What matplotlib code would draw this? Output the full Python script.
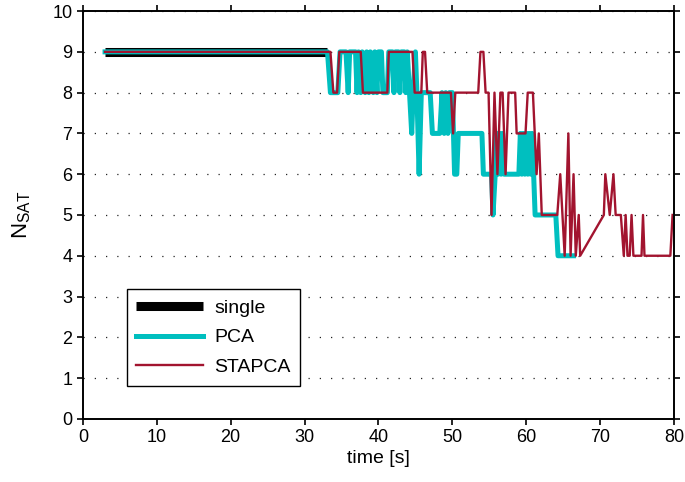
import matplotlib.pyplot as plt
import numpy as np

plt.rcParams['font.family'] = ['Liberation Sans', 'DejaVu Sans']

# single receiver
t_single = [3, 33]
n_single = [9, 9]

# PCA
t_pca = [3, 33.1, 33.5, 34.5, 34.8, 35.6, 35.9, 36.1, 36.9, 37.1, 37.3, 37.6, 37.8,
         38.2, 38.4, 38.7, 38.9, 39.3, 39.5, 39.8, 40.0, 40.4, 40.6, 41.2, 41.4,
         41.9, 42.1, 42.3, 42.7, 42.9, 43.1, 43.5, 43.7, 43.9, 44.2, 44.5, 44.7,
         45.0, 45.2, 45.5, 45.8, 47.0, 47.3, 48.3, 48.6, 48.9, 49.1, 49.4, 49.6,
         50.0, 50.3, 50.6, 50.8, 54.0, 54.2, 55.3, 55.5, 55.8, 56.0, 56.2, 56.4,
         56.6, 56.8, 57.0, 59.0, 59.2, 59.4, 59.6, 59.8, 60.0, 60.2, 60.4, 60.6,
         60.8, 61.0, 61.2, 64.0, 64.3, 66.4]
n_pca = [9, 9, 8, 8, 9, 9, 8, 9, 9, 8, 9, 8, 9,
         8, 9, 8, 9, 8, 9, 8, 9, 9, 8, 8, 9,
         9, 8, 9, 9, 8, 9, 9, 8, 9, 8, 7, 8,
         9, 8, 6, 8, 8, 7, 7, 8, 7, 8, 7, 8,
         8, 6, 6, 7, 7, 6, 6, 5, 6, 7, 6, 7,
         6, 7, 6, 6, 7, 6, 7, 6, 7, 6, 7, 6,
         7, 6, 5, 5, 4, 4]

# STAPCA
t_sta = [3, 33.5, 33.9, 34.4, 34.7, 37.6, 37.9, 41.2, 41.4, 44.6, 44.9, 45.8, 46.0,
         46.3, 46.6, 49.8, 50.1, 50.4, 53.5, 53.8, 54.2, 54.5, 54.9, 55.3, 55.7,
         56.1, 56.5, 56.8, 57.2, 57.6, 58.5, 58.7, 59.9, 60.2, 60.9, 61.4, 61.7,
         62.1, 64.2, 64.6, 65.2, 65.7, 66.0, 66.4, 66.7, 67.1, 67.3, 70.5, 70.7,
         71.3, 71.8, 72.1, 72.8, 73.2, 73.45, 73.7, 74.0, 74.25, 74.5, 75.6, 75.8,
         76.0, 79.5, 79.8]
n_sta = [9, 9, 8, 8, 9, 9, 8, 8, 9, 9, 8, 8, 9,
         9, 8, 8, 7, 8, 8, 9, 9, 8, 8, 5, 8,
         6, 8, 8, 6, 8, 8, 7, 7, 8, 8, 6, 7,
         5, 5, 6, 4, 7, 4, 6, 4, 5, 4, 5, 6,
         5, 6, 5, 5, 4, 5, 4, 4, 5, 4, 4, 5,
         4, 4, 5]

fig = plt.figure(figsize=(6.85, 4.82), dpi=100)
ax = fig.add_axes([0.121, 0.131, 0.863, 0.846])

ax.plot(t_single, n_single, color='black', lw=6.5, solid_capstyle='butt', label='single')
ax.plot(t_pca, n_pca, color='#00BFBF', lw=3.6, label='PCA')
ax.plot(t_sta, n_sta, color='#A2142F', lw=1.7, label='STAPCA')

ax.set_xlim(0, 80)
ax.set_ylim(0, 10)
ax.set_xticks(np.arange(0, 81, 10))
ax.set_yticks(np.arange(0, 11, 1))
ax.yaxis.grid(True, color='#222222', lw=0.9, ls=(0, (1, 8)))
ax.set_axisbelow(True)

ax.tick_params(direction='out', length=4, width=1.2, labelsize=13, top=True, right=True, labeltop=False, labelright=False)
for s in ax.spines.values():
    s.set_linewidth(1.4)

ax.set_xlabel('time [s]', fontsize=14, labelpad=3)
ax.set_ylabel(r'N$_{\mathregular{SAT}}$', fontsize=16, labelpad=14)

leg = ax.legend(loc='lower left', bbox_to_anchor=(0.074, 0.081), borderaxespad=0, fontsize=14,
                handlelength=3.45, fancybox=False, framealpha=1, edgecolor='black',
                borderpad=0.5, labelspacing=0.62, handletextpad=0.55)
leg.get_frame().set_linewidth(1.0)

fig.savefig('out.png', dpi=100)
